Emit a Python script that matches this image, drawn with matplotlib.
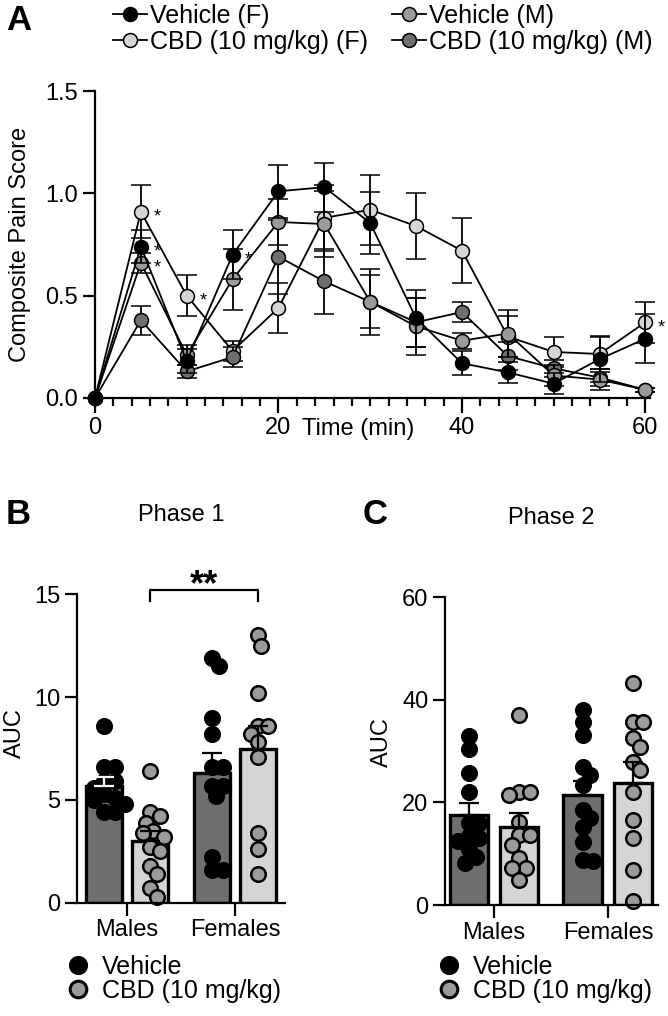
import numpy as np
import matplotlib
matplotlib.use('Agg')
import matplotlib.pyplot as plt
from matplotlib.lines import Line2D
from matplotlib.ticker import MultipleLocator

plt.rcParams['font.family'] = ['Liberation Sans', 'DejaVu Sans']
plt.rcParams['font.size'] = 17

# ---- Panel A: composite pain score (mean +/- SEM) ----
time_min = [0, 5, 10, 15, 20, 25, 30, 35, 40, 45, 50, 55, 60]
veh_f = [0, 0.74, 0.18, 0.70, 1.01, 1.03, 0.855, 0.39, 0.17, 0.125, 0.07, 0.19, 0.29]
veh_f_sem = [0, 0.08, 0.06, 0.12, 0.13, 0.12, 0.15, 0.14, 0.06, 0.05, 0.05, 0.11, 0.12]
veh_m = [0, 0.66, 0.21, 0.58, 0.86, 0.85, 0.47, 0.35, 0.28, 0.315, 0.11, 0.09, 0.04]
veh_m_sem = [0, 0.05, 0.05, 0.15, 0.11, 0.16, 0.16, 0.14, 0.04, 0.115, 0.05, 0.05, 0.01]
cbd_f = [0, 0.91, 0.50, 0.23, 0.44, 0.88, 0.92, 0.84, 0.72, 0.30, 0.225, 0.215, 0.37]
cbd_f_sem = [0, 0.13, 0.10, 0.05, 0.12, 0.16, 0.17, 0.16, 0.16, 0.10, 0.075, 0.09, 0.10]
cbd_m = [0, 0.38, 0.13, 0.20, 0.69, 0.57, 0.47, 0.37, 0.42, 0.205, 0.145, 0.10, 0.04]
cbd_m_sem = [0, 0.07, 0.03, 0.05, 0.18, 0.16, 0.13, 0.12, 0.05, 0.07, 0.04, 0.04, 0.01]

# significance stars in panel A: (time, series label)
stars_a = [(5, 'CBD (10 mg/kg) (F)'), (5, 'Vehicle (F)'), (5, 'Vehicle (M)'),
           (10, 'CBD (10 mg/kg) (F)'), (15, 'Vehicle (F)'), (60, 'CBD (10 mg/kg) (F)')]

# ---- Panels B/C: AUC per animal ----
groups = ['Males', 'Females']
p1_veh_m = [8.6, 6.6, 6.6, 5.9, 5.9, 5.6, 5.3, 5.1, 5.0, 4.8, 4.4, 4.4]
p1_cbd_m = [6.4, 4.4, 4.2, 3.9, 3.5, 3.4, 3.2, 2.7, 2.5, 1.8, 1.4, 0.7, 0.3]
p1_veh_f = [11.9, 11.5, 9.0, 8.2, 6.6, 6.6, 5.7, 5.7, 5.2, 2.2, 1.6, 1.6]
p1_cbd_f = [13.0, 12.5, 10.2, 8.6, 8.6, 8.2, 7.8, 7.1, 3.4, 2.6, 1.4]
p1_mean = [5.7, 3.0, 6.3, 7.5]
p1_sem = [0.4, 0.5, 1.0, 1.1]

p2_veh_m = [33.0, 30.5, 25.7, 22.1, 16.0, 15.9, 13.5, 13.0, 12.5, 11.0, 9.4, 8.1]
p2_cbd_m = [37.0, 22.0, 22.0, 21.5, 16.2, 13.6, 13.6, 11.7, 9.1, 7.2, 7.2, 4.9]
p2_veh_f = [38.0, 35.7, 33.1, 27.0, 25.3, 23.4, 18.5, 16.9, 15.3, 12.3, 8.8, 8.5]
p2_cbd_f = [43.2, 35.7, 35.7, 32.5, 30.9, 27.9, 26.3, 22.1, 16.6, 13.0, 6.8, 0.8]
p2_mean = [17.5, 15.3, 21.4, 23.8]
p2_sem = [2.4, 2.7, 2.8, 4.1]

DARK = '#6f6f6f'
MID = '#9b9b9b'
LIGHT = '#d5d5d5'

W, H = 668, 1016
fig = plt.figure(figsize=(W / 100, H / 100), dpi=100)


def px_axes(left, top, right, bottom):
    return fig.add_axes([left / W, 1 - bottom / H, (right - left) / W, (bottom - top) / H])


def style_axes(ax):
    for side in ['top', 'right']:
        ax.spines[side].set_visible(False)
    for side in ['left', 'bottom']:
        ax.spines[side].set_linewidth(1.6)
    ax.tick_params(which='major', length=9, width=1.6, labelsize=17, pad=3)
    ax.tick_params(which='minor', length=5.5, width=1.6)


def place_ylabel(ax, text, x, y):
    ax.set_ylabel(text, fontsize=17)
    ax.yaxis.set_label_coords(x, y)
    ax.yaxis.label.set_va('center')


# ---------- A ----------
axA = px_axes(95, 91, 650, 398)
series = {
    'Vehicle (F)': (veh_f, veh_f_sem, 'black'),
    'Vehicle (M)': (veh_m, veh_m_sem, MID),
    'CBD (10 mg/kg) (F)': (cbd_f, cbd_f_sem, LIGHT),
    'CBD (10 mg/kg) (M)': (cbd_m, cbd_m_sem, DARK),
}
draw_order = ['CBD (10 mg/kg) (F)', 'CBD (10 mg/kg) (M)', 'Vehicle (M)', 'Vehicle (F)']
lines = {}
for z, name in enumerate(draw_order):
    m, s, c = series[name]
    cont = axA.errorbar(time_min, m, yerr=s, fmt='-o', color='black', mfc=c, mec='black',
                        ms=10, mew=1.1, lw=1.3, elinewidth=1.3, capsize=7, capthick=1.3,
                        clip_on=False, zorder=3 + z, label=name)
    for art in cont.get_children():
        art.set_clip_on(False)
    lines[name] = cont.lines[0]

for t, name in stars_a:
    val = series[name][0][time_min.index(t)]
    axA.annotate('*', (t, val), xytext=(9, -7), textcoords='offset points',
                 fontsize=13, va='baseline', ha='left', zorder=10)

axA.set_xlim(0, 60.5)
axA.set_ylim(0, 1.5)
axA.set_xticks([0, 20, 40, 60])
axA.xaxis.set_minor_locator(MultipleLocator(2))
axA.set_yticks([0, 0.5, 1.0, 1.5])
axA.set_yticklabels(['0.0', '0.5', '1.0', '1.5'])
style_axes(axA)
axA.tick_params(axis='x', which='major', length=11)
axA.set_xlabel('Time (min)', fontsize=17)
axA.xaxis.set_label_coords(0.475, -0.1)
axA.xaxis.label.set_va('center')
place_ylabel(axA, 'Composite Pain Score', -0.135, 0.5)

leg_kw = dict(loc='upper left', frameon=False, fontsize=18, borderpad=0, borderaxespad=0,
              handlelength=1.36, handletextpad=0.12, labelspacing=0.08)
fig.legend([lines['Vehicle (F)'], lines['CBD (10 mg/kg) (F)']],
           ['Vehicle (F)', 'CBD (10 mg/kg) (F)'], bbox_to_anchor=(113 / W, 1 - 4 / H), **leg_kw)
fig.legend([lines['Vehicle (M)'], lines['CBD (10 mg/kg) (M)']],
           ['Vehicle (M)', 'CBD (10 mg/kg) (M)'], bbox_to_anchor=(392 / W, 1 - 4 / H), **leg_kw)

fig.text(19 / W, 1 - 21 / H, 'A', fontsize=25, fontweight='bold', ha='center', va='center')


def swarm(values, y_px, x_px, diam):
    """simple beeswarm: horizontal offsets (data units) so points don't pile up"""
    vals = np.asarray(values, float)
    ys = vals * y_px
    xs = np.zeros(len(vals))
    done = []
    step = diam / 3.0
    for i in np.argsort(-vals):
        k = 0
        placed = False
        while not placed:
            cands = [0.0] if k == 0 else [k * step, -k * step]
            for cand in cands:
                if all((cand - xs[j]) ** 2 + (ys[i] - ys[j]) ** 2 >= diam ** 2 for j in done):
                    xs[i] = cand
                    placed = True
                    break
            k += 1
        done.append(i)
    return xs / x_px


def auc_panel(ax, xlim, ylim, yticks, pts, means, sems, off, width, err_colors):
    ax.set_xlim(*xlim)
    ax.set_ylim(*ylim)
    xpos = np.array([0 - off, 0 + off, 1 - off, 1 + off])
    colors = [DARK, LIGHT, DARK, LIGHT]
    ax.bar(xpos, means, width=width, color=colors, edgecolor='black', linewidth=2.4, zorder=1)
    y_px = ax.bbox.height / (ylim[1] - ylim[0])
    x_px = ax.bbox.width / (xlim[1] - xlim[0])
    for k, vals in enumerate(pts):
        dx = swarm(vals, y_px, x_px, 10.5)
        fc = 'black' if k % 2 == 0 else MID
        ax.scatter(xpos[k] + dx, vals, s=110, facecolor=fc, edgecolor='black',
                   linewidth=1.8, zorder=2, clip_on=False)
    for k in range(4):
        ax.errorbar(xpos[k], means[k], yerr=[[0], [sems[k]]], fmt='none', ecolor=err_colors[k],
                    elinewidth=1.6, capsize=7, capthick=1.6, zorder=3)
    ax.set_yticks(yticks)
    ax.set_xticks([0, 1])
    ax.set_xticklabels(groups)
    style_axes(ax)
    return xpos


# ---------- B ----------
axB = px_axes(77, 594.3, 285, 902.7)
xB = auc_panel(axB, (-0.463, 1.463), (0, 15), [0, 5, 10, 15],
               [p1_veh_m, p1_cbd_m, p1_veh_f, p1_cbd_f], p1_mean, p1_sem, 0.21, 0.335,
               ['white', 'black', 'black', 'black'])
place_ylabel(axB, 'AUC', (15 - 77) / 208, 0.55)
axB.text(0.5, 1.257, 'Phase 1', transform=axB.transAxes, ha='center', va='center', fontsize=17)
# bracket between male CBD and female CBD
br_low, br_high = 14.65, 15.2
axB.plot([xB[1], xB[1], xB[3], xB[3]], [br_low, br_high, br_high, br_low], color='black',
         lw=1.6, clip_on=False)
axB.text((xB[1] + xB[3]) / 2, 14.95, '**', ha='center', va='baseline', fontsize=26,
         fontweight='bold')
fig.text(18 / W, 1 - 514 / H, 'B', fontsize=25, fontweight='bold', ha='center', va='center')

# ---------- C ----------
axC = px_axes(445, 597.3, 658, 905)
xC = auc_panel(axC, (-0.43, 1.44), (0, 60), [0, 20, 40, 60],
               [p2_veh_m, p2_cbd_m, p2_veh_f, p2_cbd_f], p2_mean, p2_sem, 0.22, 0.34,
               ['black'] * 4)
place_ylabel(axC, 'AUC', (382 - 445) / 213, 0.53)
axC.text(0.5, 1.257, 'Phase 2', transform=axC.transAxes, ha='center', va='center', fontsize=17)
fig.text(375 / W, 1 - 514 / H, 'C', fontsize=25, fontweight='bold', ha='center', va='center')

# bottom legends
leg_handles = [Line2D([], [], ls='none', marker='o', ms=12, mfc='black', mec='black', mew=1.8),
               Line2D([], [], ls='none', marker='o', ms=12, mfc=MID, mec='black', mew=2.2)]
leg_labels = ['Vehicle', 'CBD (10 mg/kg)']
for x0 in (66, 437):
    fig.legend(leg_handles, leg_labels, loc='upper left', bbox_to_anchor=(x0 / W, 1 - 955 / H),
               frameon=False, fontsize=18, borderpad=0, borderaxespad=0, handlelength=0.95,
               handletextpad=0.5, labelspacing=0.0)

fig.savefig('out.png', dpi=100)
